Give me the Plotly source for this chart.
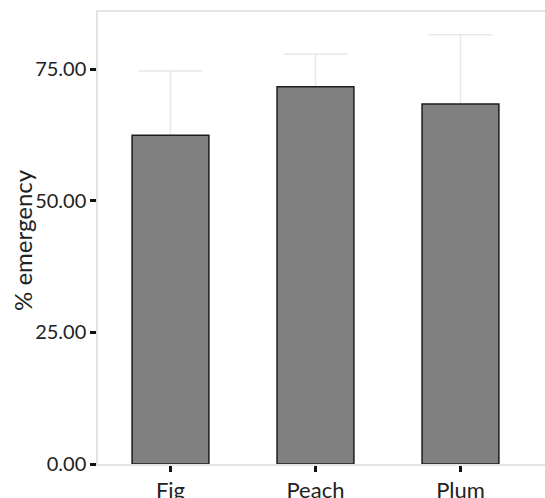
import plotly.graph_objects as go

categories = ["Fig", "Peach", "Plum"]
means = [62.5, 71.7, 68.4]
errors = [12.2, 6.2, 13.2]
y_ticks = [0, 25, 50, 75]

W, H = 545, 498
L, R, T, B = 98, 0, 12, 34
PW = W - L - R
PH = H - T - B

fig = go.Figure()
# error bars (drawn first so the bars cover their lower half)
fig.add_trace(go.Bar(
    x=categories, y=means,
    marker=dict(color="rgba(0,0,0,0)", line=dict(width=0)),
    width=0.53,
    error_y=dict(type="data", array=errors, symmetric=True,
                 color="#e8e8e8", thickness=1.5, width=32),
    hoverinfo="skip", showlegend=False,
))
fig.add_trace(go.Bar(
    x=categories, y=means,
    marker=dict(color="#808080", line=dict(color="#1c1c1c", width=1.5)),
    width=0.53, showlegend=False,
))

fig.update_layout(
    width=W, height=H,
    margin=dict(l=L, r=R, t=T, b=B, autoexpand=False),
    barmode="overlay",
    plot_bgcolor="white", paper_bgcolor="white",
    font=dict(family="Lato", color="#222222", size=21),
    xaxis=dict(
        automargin=False,
        range=[-0.5, 2.583],
        showline=True, linecolor="#e4e4e4", linewidth=1.5, mirror=True,
        ticks="outside", ticklen=6, tickwidth=2.5, tickcolor="#111111",
        showgrid=False, zeroline=False,
        tickfont=dict(size=22),
    ),
    yaxis=dict(
        automargin=False,
        range=[0, 85.9],
        tickvals=y_ticks, tickformat=".2f",
        showline=True, linecolor="#e4e4e4", linewidth=1.5,
        ticks="outside", ticklen=6, tickwidth=2.5, tickcolor="#111111",
        showgrid=False, zeroline=False,
        tickfont=dict(size=20),
    ),
    annotations=[dict(
        text="% emergency", textangle=-90,
        xref="paper", yref="paper",
        x=(22 - L) / PW, y=(464 - 240) / PH,
        xanchor="center", yanchor="middle", showarrow=False,
        font=dict(size=24, color="#222222", family="Lato"),
    )],
)

fig.write_html(
    "out.html",
    config={"displayModeBar": False},
    post_script="document.body.style.margin='0';document.body.style.overflow='hidden';",
)
